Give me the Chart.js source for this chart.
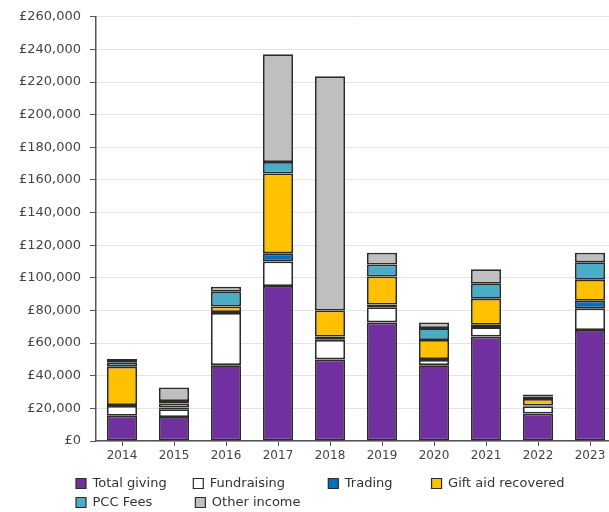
<!DOCTYPE html>
<html>
<head>
<meta charset="utf-8">
<script src="https://cdn.jsdelivr.net/npm/chart.js@4"></script>
<style>
    html, body { margin: 0; padding: 0; background: #fff; overflow: hidden; }
    #wrap { width: 616px; height: 512px; }
</style>
</head>
<body>
<div id="wrap"><canvas id="incomeChart"></canvas></div>
<script>
// Income by year (in £)
const years = ['2014', '2015', '2016', '2017', '2018', '2019', '2020', '2021', '2022', '2023'];
const totalGiving = [15500, 14700, 46500, 95000, 50000, 72700, 46500, 64000, 16800, 68000];
const fundraising = [6000, 4800, 32000, 15000, 12000, 9300, 3200, 5800, 4500, 13300];
const trading = [500, 1000, 500, 5000, 2000, 1600, 500, 1400, 500, 4700];
const giftAid = [23500, 2500, 3500, 49000, 16000, 17200, 11700, 16000, 4000, 12800];
const pccFees = [2500, 1500, 9000, 7000, 0, 7400, 7300, 9200, 1500, 10800];
const otherIncome = [2200, 8300, 3000, 66000, 143500, 7200, 3500, 8800, 1200, 5800];
const yTicks = [0, 20000, 40000, 60000, 80000, 100000, 120000, 140000, 160000, 180000, 200000, 220000, 240000, 260000];

// trailing spaces per legend entry so the entries sit in columns
const legendGaps = [5, 9, 8, 0, 9, 0];

document.addEventListener('DOMContentLoaded', () => {
    initializeChart();
});

function series(label, data, color) {
    return {
        label: label,
        data: data,
        backgroundColor: color,
        borderColor: '#2b2b2b',
        borderWidth: 1.8,
        borderSkipped: false,
        categoryPercentage: 1,
        barPercentage: 0.58
    };
}

// move the legend block left so it starts under the y labels
const legendShift = {
    id: 'legendShift',
    afterLayout(chart) {
        chart.legend.left = 70;
    }
};

function initializeChart() {
    const ctx = document.getElementById('incomeChart').getContext('2d');
    Chart.defaults.font.family = '"DejaVu Sans", sans-serif';

    new Chart(ctx, {
        type: 'bar',
        data: {
            labels: years,
            datasets: [
                series('Total giving', totalGiving, '#7030a0'),
                series('Fundraising', fundraising, '#ffffff'),
                series('Trading', trading, '#0070c0'),
                series('Gift aid recovered', giftAid, '#ffc000'),
                series('PCC Fees', pccFees, '#4bacc6'),
                series('Other income', otherIncome, '#bfbfbf')
            ]
        },
        options: {
            responsive: true,
            maintainAspectRatio: false,
            animation: false,
            layout: { padding: { top: 11, right: 0, bottom: -7, left: 0 } },
            plugins: {
                tooltip: { enabled: false },
                legend: {
                    position: 'bottom',
                    align: 'start',
                    labels: {
                        boxWidth: 10,
                        boxHeight: 10,
                        padding: 6,
                        color: '#333',
                        font: { size: 13 },
                        generateLabels: chart => {
                            const items = Chart.defaults.plugins.legend.labels.generateLabels(chart);
                            items.forEach((item, i) => {
                                item.text = item.text + ' '.repeat(legendGaps[i]);
                                item.lineWidth = 1.2;
                            });
                            return items;
                        }
                    }
                }
            },
            scales: {
                x: {
                    stacked: true,
                    afterFit: scale => { scale.height = 30; },
                    grid: {
                        drawOnChartArea: false,
                        offset: false,
                        tickLength: 5,
                        tickColor: '#555'
                    },
                    border: { color: '#555', width: 1.5 },
                    ticks: { color: '#444', font: { size: 12 }, padding: 3 }
                },
                y: {
                    stacked: true,
                    min: 0,
                    max: 260000,
                    afterFit: scale => { scale.width = 96; },
                    afterBuildTicks: scale => {
                        scale.ticks = yTicks.map(v => ({ value: v }));
                    },
                    grid: {
                        color: '#e4e4e4',
                        tickLength: 6,
                        tickColor: '#555'
                    },
                    border: { color: '#555', width: 1.5 },
                    ticks: {
                        color: '#444',
                        font: { size: 13 },
                        padding: 9,
                        callback: v => '£' + v.toLocaleString('en-GB')
                    }
                }
            }
        },
        plugins: [legendShift]
    });
}
</script>
</body>
</html>
